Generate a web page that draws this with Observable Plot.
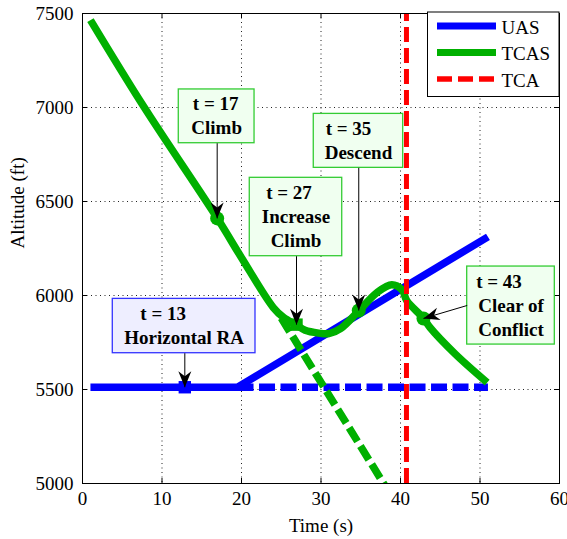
<!DOCTYPE html>
<html><head><meta charset="utf-8">
<script src="https://cdn.jsdelivr.net/npm/d3@7"></script>
<script src="https://cdn.jsdelivr.net/npm/@observablehq/plot@0.6"></script>
<style>body{margin:0;background:#fff} svg{display:block}</style>
</head><body><div id="chart"></div>
<script>
// ---- data ----
const xTicks = [0, 10, 20, 30, 40, 50, 60];
const yTicks = [5000, 5500, 6000, 6500, 7000, 7500];

const uasTime = [1, 19.5, 51];
const uasAlt  = [5512, 5512, 6312];
const uasPredTime = [19.5, 51];
const uasPredAlt  = [5512, 5512];

const tcasTime = [1, 7.7, 17, 20, 24, 25.3, 26.9, 28, 29.7, 31, 32.5, 34.75, 37.06, 38.9, 40.2, 40.8, 42.9, 43.7, 46.9, 50.9];
const tcasAlt  = [7465, 7005, 6408, 6201, 5936, 5883, 5843, 5815, 5800, 5797, 5825, 5918, 6016, 6057, 6030, 5972, 5879, 5830, 5688, 5537];
const tcasPredTime = [25, 38.5];
const tcasPredAlt  = [5880, 4957];

const tcaTime = 40.75;

const legendNames = ["UAS", "TCAS", "TCA"];

const noteLines = [["t = 13", "Horizontal RA"], ["t = 17", "Climb"], ["t = 27", "Increase", "Climb"], ["t = 35", "Descend"], ["t = 43", "Clear of", "Conflict"]];
const noteTime = [12.87, 16.94, 26.92, 34.75, 42.89];
const noteAlt  = [5512, 6410, 5845, 5920, 5878];

// ---- layout ----
const W = 567, H = 539, mL = 82, mR = 8, mT = 13, mB = 56;
const iw = W - mL - mR, ih = H - mT - mB;
const kx = iw / 60, ky = ih / 2500;
const font = "'Liberation Serif','Times New Roman',serif";
const green = "#00b000", blue = "#0000ff", red = "#ff0000";

const noteBox = [
  {t1: 3.81, t2: 21.76, a1: 5982, a2: 5693, stroke: "#3333ff", fill: "#eeeeff", off: -21, from: "bottom"},
  {t1: 12.11, t2: 21.64, a1: 7096, a2: 6810, stroke: "#33cc33", fill: "#f0fff0", off: -1, from: "bottom"},
  {t1: 21.04, t2: 32.67, a1: 6626, a2: 6209, stroke: "#33cc33", fill: "#f0fff0", off: -7, from: "bottom"},
  {t1: 29.09, t2: 40.34, a1: 6966, a2: 6679, stroke: "#33cc33", fill: "#f0fff0", off: -10, from: "bottom"},
  {t1: 48.39, t2: 59.41, a1: 6154, a2: 5739, stroke: "#33cc33", fill: "#f0fff0", off: -12, from: "left", fromAlt: 5947}
];

const uas = uasTime.map((t, i) => ({t, a: uasAlt[i]}));
const uasPred = uasPredTime.map((t, i) => ({t, a: uasPredAlt[i]}));
const tcas = tcasTime.map((t, i) => ({t, a: tcasAlt[i]}));
const tcasPred = tcasPredTime.map((t, i) => ({t, a: tcasPredAlt[i]}));

const boxes = noteBox.map((b, i) => ({...b, i}));
const lines = [];
noteLines.forEach((ls, i) => {
  const b = noteBox[i];
  const cx = (b.t1 + b.t2) / 2, cy = (b.a1 + b.a2) / 2;
  const n = ls.length;
  ls.forEach((s, j) => {
    lines.push({s, x: cx + (j === 0 ? b.off : 0) / kx, y: cy - (j - (n - 1) / 2) * 24 / ky});
  });
});
const arrows = noteTime.map((t, i) => {
  const b = noteBox[i];
  const x1 = b.from === "left" ? b.t1 : t;
  const y1 = b.from === "left" ? b.fromAlt : b.a2;
  const dxp = (t - x1) * kx, dyp = -(noteAlt[i] - y1) * ky;
  const ang = Math.atan2(dyp, dxp) * 180 / Math.PI - 90;
  return {x1, y1, x2: t, y2: noteAlt[i], rot: ang};
});
const arrowHead = {draw(ctx) { ctx.moveTo(0, 0); ctx.lineTo(-6.5, -16); ctx.lineTo(0, -11); ctx.lineTo(6.5, -16); ctx.closePath(); }};

const greenMarks = [1, 2, 3, 4].map(i => ({t: noteTime[i], a: noteAlt[i], i}));

const plot = Plot.plot({
  width: W, height: H,
  marginLeft: mL, marginRight: mR, marginTop: mT, marginBottom: mB,
  x: {domain: [0, 60]},
  y: {domain: [5000, 7500]},
  style: {fontFamily: font, fontSize: "19px", color: "black", background: "white"},
  marks: [
    Plot.gridX(xTicks, {stroke: "#222", strokeOpacity: 1, strokeDasharray: "1,3.5"}),
    Plot.gridY(yTicks, {stroke: "#222", strokeOpacity: 1, strokeDasharray: "1,3.5"}),
    Plot.tickX(xTicks, {x: d => d, insetTop: ih - 5, stroke: "black"}),
    Plot.tickX(xTicks, {x: d => d, insetBottom: ih - 5, stroke: "black"}),
    Plot.tickY(yTicks, {y: d => d, insetRight: iw - 5, stroke: "black"}),
    Plot.tickY(yTicks, {y: d => d, insetLeft: iw - 5, stroke: "black"}),
    Plot.axisX(xTicks, {tickSize: 0, tickPadding: 8, label: null, fontSize: 19, tickFormat: d3.format("d")}),
    Plot.axisY(yTicks, {tickSize: 0, tickPadding: 9, label: null, fontSize: 19, tickFormat: d3.format("d")}),
    Plot.text(["Time (s)"], {frameAnchor: "bottom", dy: 42, lineAnchor: "middle", fontSize: 19}),
    Plot.text(["Altitude (ft)"], {frameAnchor: "left", dx: -65, rotate: -90, lineAnchor: "middle", fontSize: 19}),
    Plot.line(uas, {x: "t", y: "a", stroke: blue, strokeWidth: 7.5, strokeLinecap: "butt", clip: true}),
    Plot.line(uasPred, {x: "t", y: "a", stroke: blue, strokeWidth: 7.5, strokeLinecap: "butt", strokeDasharray: "16,5.5", clip: true}),
    Plot.line(tcasPred, {x: "t", y: "a", stroke: green, strokeWidth: 7.5, strokeLinecap: "butt", strokeDasharray: "16,5.5", clip: true}),
    Plot.line(tcas, {x: "t", y: "a", stroke: green, strokeWidth: 7.5, curve: "catmull-rom", strokeLinecap: "butt", strokeLinejoin: "round", clip: true}),
    Plot.ruleX([tcaTime], {x: d => d, y1: 5000, y2: 7500, stroke: red, strokeWidth: 5, strokeLinecap: "butt", strokeDasharray: "15,6"}),
    Plot.dot([{t: noteTime[0], a: noteAlt[0]}], {x: "t", y: "a", symbol: "square", r: 7, fill: blue}),
    Plot.dot(greenMarks, {x: "t", y: "a", symbol: d => d.i === 2 ? "square" : "circle", r: 7, fill: green}),
    Plot.frame({stroke: "black", strokeWidth: 1}),
    Plot.rect(boxes, {x1: "t1", x2: "t2", y1: "a1", y2: "a2", fill: "fill", stroke: "stroke", strokeWidth: 1.3}),
    Plot.text(lines, {x: "x", y: "y", text: "s", fontWeight: "bold", fontSize: 19, textAnchor: "middle", lineAnchor: "middle", fill: "black"}),
    Plot.link(arrows, {x1: "x1", y1: "y1", x2: "x2", y2: "y2", stroke: "black", strokeWidth: 1}),
    Plot.dot(arrows, {x: "x2", y: "y2", symbol: arrowHead, rotate: "rot", fill: "black", stroke: "none"})
  ]
});

// legend
const svg = d3.select(plot);
const lg = svg.append("g").attr("text-anchor", "start");
lg.append("rect").attr("x", 427.5).attr("y", 12).attr("width", 131.5).attr("height", 84.5)
  .attr("fill", "white").attr("stroke", "black").attr("stroke-width", 1);
const legStyle = [{c: blue, w: 7, dash: null}, {c: green, w: 7, dash: null}, {c: red, w: 5.5, dash: "15,6"}];
legendNames.forEach((name, i) => {
  const y = 26 + i * 26.5;
  const s = legStyle[i];
  lg.append("line").attr("x1", 437).attr("x2", 496).attr("y1", y).attr("y2", y)
    .attr("stroke", s.c).attr("stroke-width", s.w).attr("stroke-dasharray", s.dash);
  lg.append("text").attr("x", 501.5).attr("y", y + 1).attr("dy", "0.35em").attr("text-anchor", "start")
    .attr("font-family", font).attr("font-size", 19).attr("fill", "black").text(name);
});

document.getElementById("chart").appendChild(plot);
</script>
</body></html>
